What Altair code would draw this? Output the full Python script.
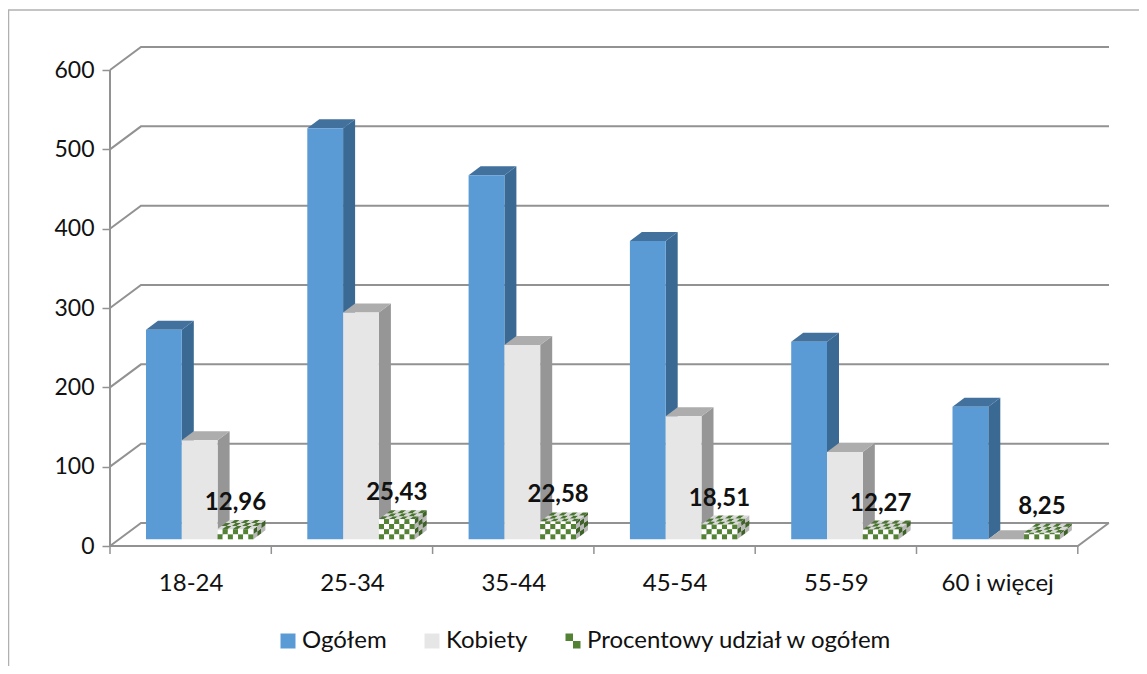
import altair as alt
import pandas as pd

categories = ["18-24", "25-34", "35-44", "45-54", "55-59", "60 i więcej"]
ogolem = [264, 518, 459, 376, 249, 167]
kobiety = [125, 286, 245, 155, 110, 0]
procent = [12.96, 25.43, 22.58, 18.51, 12.27, 8.25]
labels = ["12,96", "25,43", "22,58", "18,51", "12,27", "8,25"]
series_names = ["Ogółem", "Kobiety", "Procentowy udział w ogółem"]
y_ticks = [0, 100, 200, 300, 400, 500, 600]

# plot frame
W, H = 999, 500
PX_X = 161.3           # px per category
PX_Y = 0.7933          # px per value unit
X_MAX = W / PX_X
Y_MAX = H / PX_Y


def ux(px):
    return px / PX_X


def uy(px):
    return px / PX_Y


BAR_W = ux(35.8)
BAR_START = ux(36)
BASE = uy(6.7)
DX, DY = ux(12), uy(9)
WALL_X, WALL_Y = ux(31), uy(23)

# wall / floor lines
lines = []
for t in y_ticks:
    lines += [
        dict(k=f"g{t}", x=0, y=t),
        dict(k=f"g{t}", x=WALL_X, y=t + WALL_Y),
        dict(k=f"g{t}", x=X_MAX, y=t + WALL_Y),
    ]
lines += [dict(k="front", x=0, y=0), dict(k="front", x=6, y=0), dict(k="front", x=6 + WALL_X, y=WALL_Y)]
lines_df = pd.DataFrame(lines)

GRID = "#929292"
cat_expr = "[" + ",".join(f"'{c}'" for c in categories) + "][floor(datum.value)]"
line_layer = alt.Chart(lines_df).mark_line(color=GRID, strokeWidth=2).encode(
    x=alt.X("x:Q", scale=alt.Scale(domain=[0, X_MAX], nice=False, zero=False),
            axis=alt.Axis(values=[i + 0.5 for i in range(6)],
                          labelExpr=cat_expr,
                          title=None, domain=False, ticks=False, grid=False, labelPadding=25,
                          labelFontSize=24, labelFont="Lato", labelColor="#111111")),
    y=alt.Y("y:Q", scale=alt.Scale(domain=[0, Y_MAX], nice=False, zero=False),
            axis=alt.Axis(values=y_ticks, title=None, domain=False, grid=False, tickColor=GRID, tickWidth=1.5,
                          tickSize=8, labelPadding=8, labelFontSize=23, labelFont="Lato", labelColor="#111111")),
    detail="k:N",
)

axis_v = alt.Chart(pd.DataFrame({"x": [0], "y": [0], "y2": [600]})).mark_rule(color=GRID, strokeWidth=2).encode(
    x="x:Q", y="y:Q", y2="y2:Q")
axis_ticks = alt.Chart(pd.DataFrame({"x": list(range(7))})).mark_rule(color=GRID, strokeWidth=1.5).encode(
    x="x:Q", y=alt.value(H), y2=alt.value(H + 8))

# solid bars
rects, sides, tops = [], [], []
COLORS = {
    0: ("#5b9bd5", "#3a6a94", "#41719c"),
    1: ("#e7e6e6", "#969696", "#adadad"),
}


def add_solid(idx, cat, val, xl):
    xr = xl + BAR_W
    y0, y1 = BASE, BASE + val
    f, s, t = COLORS[idx]
    rects.append(dict(o=idx, x=xl, x2=xr, y=y0, y2=y1, f=f))
    k = f"{idx}-{cat}"
    sides.append(dict(o=idx, k=k, x=xr, y=y0, y2=y1, f=s))
    sides.append(dict(o=idx, k=k, x=xr + DX, y=y0 + DY, y2=y1 + DY, f=s))
    tops.append(dict(o=idx, k=k, y=y1, x=xl, x2=xr, f=t))
    tops.append(dict(o=idx, k=k, y=y1 + DY, x=xl + DX, x2=xr + DX, f=t))


for i in range(6):
    add_solid(0, i, ogolem[i], i + BAR_START)
    add_solid(1, i, kobiety[i], i + BAR_START + BAR_W)

# checkered percentage bars
GREEN, WHITE = "#548235", "#ffffff"
S_GREEN, S_WHITE = "#3f6228", "#b8b8b8"
T_GREEN, T_WHITE = "#4a7530", "#d9d9d9"
COLS, DEPTHS = 7, 3
CELL_W = BAR_W / COLS
CELL_H = uy(5.1)
for i, p in enumerate(procent):
    xl = i + BAR_START + 2 * BAR_W
    top = BASE + p
    r = 0
    while BASE + r * CELL_H < top:
        y0 = BASE + r * CELL_H
        y1 = min(top, y0 + CELL_H)
        for c in range(COLS):
            rects.append(dict(o=2, x=xl + c * CELL_W, x2=xl + (c + 1) * CELL_W, y=y0, y2=y1,
                              f=GREEN if (r + c) % 2 == 0 else WHITE))
        for d in range(DEPTHS):
            k = f"s{i}-{r}-{d}"
            col = S_GREEN if (r + d + COLS) % 2 == 0 else S_WHITE
            xa = xl + BAR_W + d * DX / DEPTHS
            xb = xl + BAR_W + (d + 1) * DX / DEPTHS
            sides.append(dict(o=2, k=k, x=xa, y=y0 + d * DY / DEPTHS, y2=y1 + d * DY / DEPTHS, f=col))
            sides.append(dict(o=2, k=k, x=xb, y=y0 + (d + 1) * DY / DEPTHS, y2=y1 + (d + 1) * DY / DEPTHS, f=col))
        r += 1
    for d in range(DEPTHS):
        for c in range(COLS):
            k = f"t{i}-{c}-{d}"
            col = T_GREEN if (r + c + d) % 2 == 0 else T_WHITE
            sh0, sh1 = d * DX / DEPTHS, (d + 1) * DX / DEPTHS
            tops.append(dict(o=2, k=k, y=top + d * DY / DEPTHS, x=xl + c * CELL_W + sh0, x2=xl + (c + 1) * CELL_W + sh0, f=col))
            tops.append(dict(o=2, k=k, y=top + (d + 1) * DY / DEPTHS, x=xl + c * CELL_W + sh1, x2=xl + (c + 1) * CELL_W + sh1, f=col))

rects_df, sides_df, tops_df = pd.DataFrame(rects), pd.DataFrame(sides), pd.DataFrame(tops)

bar_layers = []
for o in range(3):
    bar_layers += [
        alt.Chart(sides_df[sides_df.o == o]).mark_area(interpolate="linear", strokeWidth=0).encode(
            x="x:Q", y=alt.Y("y:Q", stack=None), y2="y2:Q", fill=alt.Fill("f:N", scale=None), detail="k:N"),
        alt.Chart(tops_df[tops_df.o == o]).mark_area(orient="horizontal", interpolate="linear", strokeWidth=0).encode(
            y="y:Q", x=alt.X("x:Q", stack=None), x2="x2:Q", fill=alt.Fill("f:N", scale=None), detail="k:N"),
        alt.Chart(rects_df[rects_df.o == o]).mark_rect(strokeWidth=0).encode(
            x="x:Q", x2="x2:Q", y="y:Q", y2="y2:Q", fill=alt.Fill("f:N", scale=None)),
    ]

labels_df = pd.DataFrame({
    "x": [i + BAR_START + 2.5 * BAR_W for i in range(6)],
    "y": [BASE + p for p in procent],
    "t": labels,
})
label_layer = alt.Chart(labels_df).mark_text(
    font="Lato", fontWeight="bold", fontSize=24, color="#111111", dy=-26, baseline="middle", align="center"
).encode(x="x:Q", y="y:Q", text="t:N")

# legend
legend_df = pd.DataFrame({"s": series_names, "x": [0, 0, 0], "y": [0, 0, 0]})
CHECK = "M-1,-1H0V0H-1ZM0,0H1V1H0Z"
shared_legend = alt.Legend(title=None, orient="none", direction="horizontal", columns=3,
                           legendX=166, legendY=583, symbolSize=225, symbolOpacity=1,
                           symbolStrokeWidth=0, labelFont="Lato", labelFontSize=24, labelColor="#111111",
                           columnPadding=33, labelOffset=2, labelLimit=0)
legend_layer = alt.Chart(legend_df).mark_point(filled=True, opacity=0).encode(
    x="x:Q", y="y:Q",
    fill=alt.Fill("s:N", sort=series_names,
                  scale=alt.Scale(domain=series_names, range=["#5b9bd5", "#e7e6e6", "#548235"]),
                  legend=shared_legend),
    shape=alt.Shape("s:N", sort=series_names,
                    scale=alt.Scale(domain=series_names, range=["square", "square", CHECK]),
                    legend=shared_legend),
)

# frame of the picture
frame = alt.Chart(pd.DataFrame({"a": [0]})).mark_rule(color="#b0b0b0", strokeWidth=1.5).encode(
    x=alt.value(-101.5), y=alt.value(-36), y2=alt.value(H + 120))
frame_top = alt.Chart(pd.DataFrame({"a": [0]})).mark_rule(color="#b0b0b0", strokeWidth=1.5).encode(
    y=alt.value(-36), x=alt.value(-102), x2=alt.value(1029))

chart = alt.layer(line_layer, axis_v, axis_ticks, *bar_layers, label_layer, legend_layer, frame, frame_top).properties(
    width=W, height=H,
    padding={"left": 102, "top": 38, "right": 30, "bottom": 120},
    autosize=alt.AutoSizeParams(type="none"),
).configure_view(stroke=None)

chart.save("out.html", embed_options={"renderer": "svg", "actions": False})
